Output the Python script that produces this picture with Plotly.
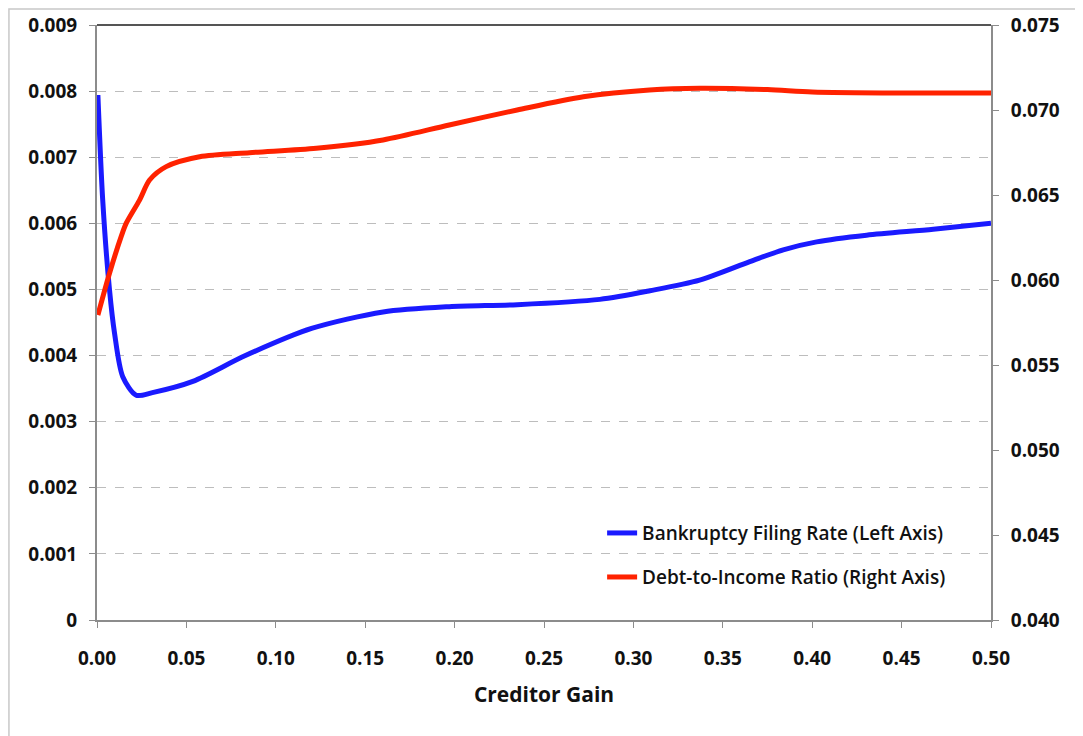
import plotly.graph_objects as go

# ---- data ----
bankruptcy_x = [0.0005, 0.0032, 0.007, 0.0098, 0.0144, 0.0219, 0.031, 0.0536, 0.083, 0.12,
                0.16, 0.197, 0.235, 0.2812, 0.3092, 0.337, 0.3651, 0.3838, 0.4025, 0.4304, 0.4677, 0.50]
bankruptcy_rate = [0.00794, 0.00635, 0.00499, 0.00434, 0.00368, 0.00340, 0.00344, 0.00361, 0.00400, 0.00441,
                   0.00466, 0.00474, 0.00477, 0.00485, 0.00498, 0.00514, 0.00542, 0.00560, 0.00572, 0.00582,
                   0.00591, 0.00600]

debt_x = [0.0005, 0.007, 0.0135, 0.0163, 0.0238, 0.0294, 0.0387, 0.0574, 0.0853, 0.1227,
          0.160, 0.197, 0.235, 0.272, 0.309, 0.337, 0.375, 0.40, 0.45, 0.50]
debt_income = [0.05794, 0.0604, 0.06255, 0.06333, 0.0647, 0.06588, 0.06667, 0.06725, 0.06749, 0.06775,
               0.06824, 0.06912, 0.0700, 0.07078, 0.07118, 0.07128, 0.0712, 0.07106, 0.0710, 0.0710]

x_ticks = [0.0, 0.05, 0.10, 0.15, 0.20, 0.25, 0.30, 0.35, 0.40, 0.45, 0.50]
x_ticktext = ["0.00", "0.05", "0.10", "0.15", "0.20", "0.25", "0.30", "0.35", "0.40", "0.45", "0.50"]
left_ticks = [0, 0.001, 0.002, 0.003, 0.004, 0.005, 0.006, 0.007, 0.008, 0.009]
left_ticktext = ["0", "0.001", "0.002", "0.003", "0.004", "0.005", "0.006", "0.007", "0.008", "0.009"]
right_ticks = [0.040, 0.045, 0.050, 0.055, 0.060, 0.065, 0.070, 0.075]
right_ticktext = ["0.040", "0.045", "0.050", "0.055", "0.060", "0.065", "0.070", "0.075"]

FONT = "Open Sans"
TICKFONT = dict(size=19, family=FONT, weight="bold", color="#111111")
LEGFONT = dict(size=19, family=FONT, weight=600, color="#111111")
fig = go.Figure()
fig.add_trace(go.Scatter(
    x=bankruptcy_x, y=bankruptcy_rate, mode="lines",
    line=dict(color="#1a1aff", width=5, shape="spline", smoothing=0.8),
    name="Bankruptcy Filing Rate (Left Axis)", legend="legend", yaxis="y", showlegend=True))
fig.add_trace(go.Scatter(
    x=debt_x, y=debt_income, mode="lines",
    line=dict(color="#ff2200", width=5, shape="spline", smoothing=0.8),
    name="Debt-to-Income Ratio (Right Axis)", legend="legend2", yaxis="y2", showlegend=True))

axis_col = "#8c8c8c"
fig.update_layout(
    width=1083, height=736,
    margin=dict(l=89, r=100, t=17, b=124),
    showlegend=True,
    paper_bgcolor="white", plot_bgcolor="white",
    font=dict(family=FONT, color="#111111"),
    xaxis=dict(range=[0, 0.5], tickvals=x_ticks, ticktext=x_ticktext,
               tickfont=TICKFONT, ticklabelstandoff=14, automargin=False,
               showline=True, linecolor=axis_col, linewidth=2,
               ticks="outside", ticklen=6, tickcolor=axis_col, tickwidth=1,
               showgrid=False, zeroline=False,
               title=dict(text="Creditor Gain", font=dict(size=21, family=FONT, weight="bold", color="#111111"),
                          standoff=18)),
    yaxis=dict(range=[0, 0.009], tickvals=left_ticks, ticktext=left_ticktext,
               tickfont=TICKFONT, ticklabelstandoff=8, automargin=False,
               showline=True, linecolor=axis_col, linewidth=2,
               ticks="outside", ticklen=6, tickcolor=axis_col, tickwidth=1,
               showgrid=True, gridcolor="#bdbdbd", griddash="dash", gridwidth=1.3,
               zeroline=False),
    yaxis2=dict(range=[0.040, 0.075], tickvals=right_ticks, ticktext=right_ticktext,
                overlaying="y", side="right",
                tickfont=TICKFONT, ticklabelstandoff=8, automargin=False,
                showline=True, linecolor=axis_col, linewidth=2,
                ticks="outside", ticklen=6, tickcolor=axis_col, tickwidth=1,
                showgrid=False, zeroline=False),
    legend=dict(x=0.565, y=0.178, xanchor="left", yanchor="top", bgcolor="rgba(0,0,0,0)", font=LEGFONT),
    legend2=dict(x=0.565, y=0.104, xanchor="left", yanchor="top", bgcolor="rgba(0,0,0,0)", font=LEGFONT),
    shapes=[
        dict(type="line", xref="paper", yref="paper", x0=0, x1=1, y0=1, y1=1,
             line=dict(color="#555555", width=2)),
        dict(type="rect", xref="paper", yref="paper", x0=-0.0985, x1=1.12, y0=-0.23, y1=1.027,
             line=dict(color="#c8c8c8", width=1.5), layer="below"),
    ],
)
fig.write_html("out.html")
